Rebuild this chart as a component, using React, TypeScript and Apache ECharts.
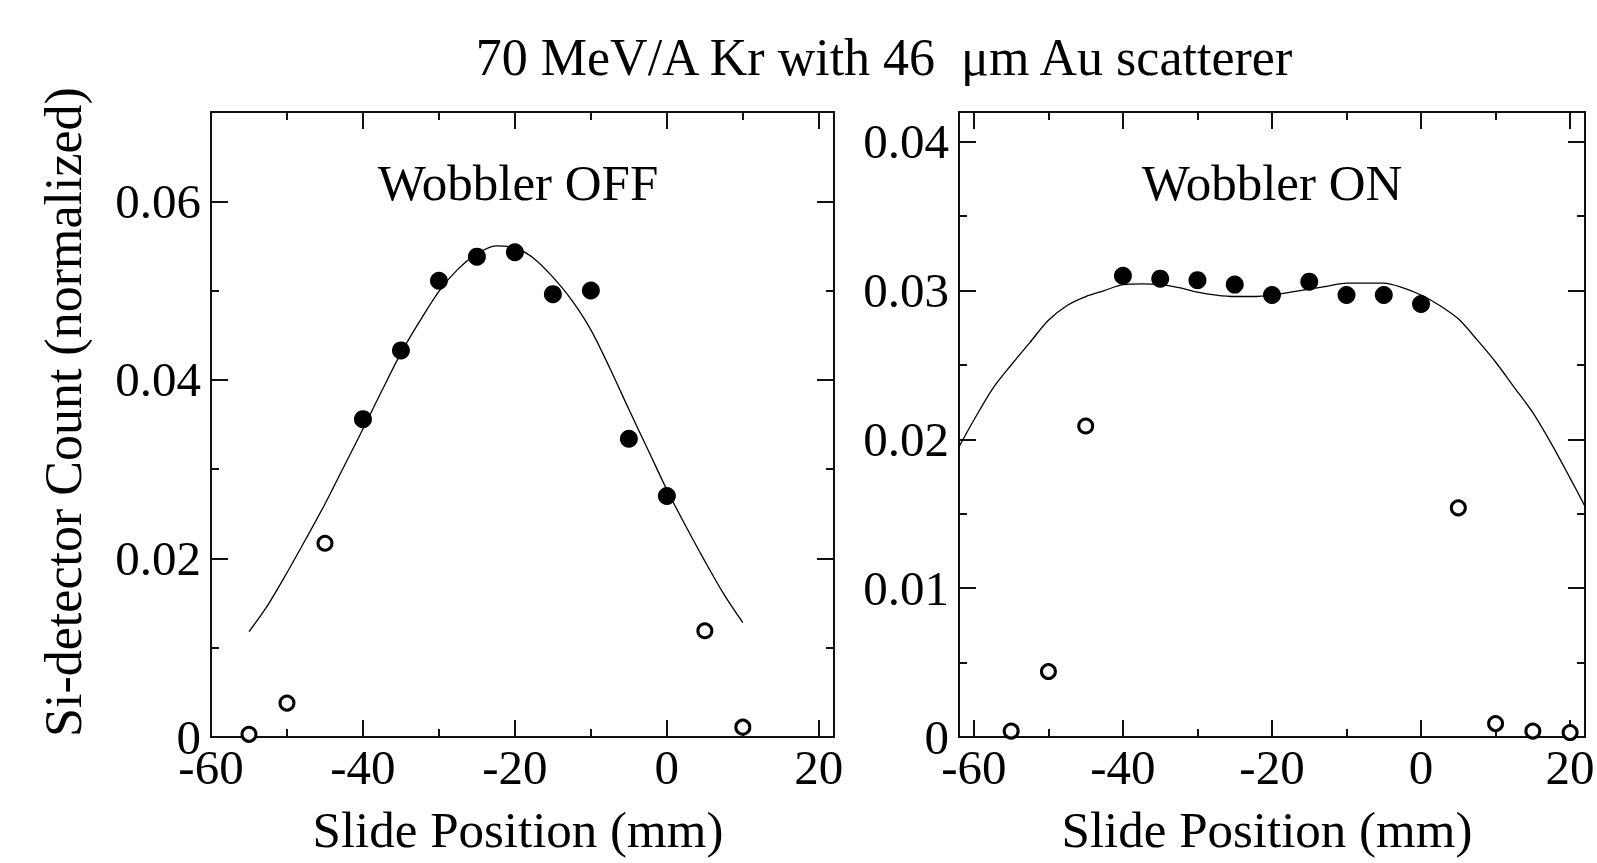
import React, { useEffect, useRef } from "react";
import * as echarts from "echarts";

// ---------- Data ----------
// Left panel: Wobbler OFF
const offFilledX = [-40, -35, -30, -25, -20, -15, -10, -5, 0];
const offFilledY = [0.0356, 0.0433, 0.0511, 0.0538, 0.0543, 0.0496, 0.05, 0.0334, 0.027];
const offOpenX = [-55, -50, -45, 5, 10];
const offOpenY = [0.0003, 0.0038, 0.0217, 0.0119, 0.0011];
const offFitX = [-55, -52.5, -50, -47.5, -45, -42.5, -40, -37.5, -35, -32.5, -30, -27.5, -25, -22.5, -20, -17.5, -15, -12.5, -10, -7.5, -5, -2.5, 0, 2.5, 5, 7.5, 10];
const offFitY = [0.0118, 0.0148, 0.0184, 0.0222, 0.0261, 0.0303, 0.0345, 0.0388, 0.043, 0.0466, 0.0499, 0.0524, 0.0541, 0.055, 0.0548, 0.0536, 0.0515, 0.0489, 0.0456, 0.0413, 0.0367, 0.0322, 0.0277, 0.0236, 0.0197, 0.016, 0.0128];

// Right panel: Wobbler ON
const onFilledX = [-40, -35, -30, -25, -20, -15, -10, -5, 0];
const onFilledY = [0.031, 0.0308, 0.0307, 0.0304, 0.0297, 0.0306, 0.0297, 0.0297, 0.0291];
const onOpenX = [-55, -50, -45, 5, 10, 15, 20];
const onOpenY = [0.0004, 0.0044, 0.0209, 0.0154, 0.0009, 0.0004, 0.0003];
const onFitX = [-62, -60, -57.5, -55, -52.5, -50, -47.5, -45, -42.5, -40, -37.5, -35, -32.5, -30, -27.5, -25, -22.5, -20, -17.5, -15, -12.5, -10, -7.5, -5, -2.5, 0, 2.5, 5, 7.5, 10, 12.5, 15, 17.5, 20, 22];
const onFitY = [0.0195, 0.0213, 0.0234, 0.025, 0.0265, 0.028, 0.029, 0.0296, 0.03, 0.0304, 0.03045, 0.0304, 0.0302, 0.0299, 0.0297, 0.0296, 0.0296, 0.0297, 0.0299, 0.0301, 0.0303, 0.0305, 0.0305, 0.0305, 0.0302, 0.0297, 0.029, 0.0281, 0.0267, 0.0252, 0.0235, 0.0218, 0.0197, 0.0174, 0.0155];

// Tick values
const xMajorTicks = [-60, -40, -20, 0, 20];
const xMinorTicks = [-50, -30, -10, 10];
const offYMajor = [0, 0.02, 0.04, 0.06];
const offYMinor = [0.01, 0.03, 0.05];
const onYMajor = [0, 0.01, 0.02, 0.03, 0.04];
const onYMinor = [0.005, 0.015, 0.025, 0.035];

// Texts
const titleText = "70 MeV/A Kr with 46  μm Au scatterer";
const yTitle = "Si-detector Count (normalized)";
const xTitle = "Slide Position (mm)";
const offLabel = "Wobbler OFF";
const onLabel = "Wobbler ON";

const FONT = "'Liberation Serif', 'Times New Roman', serif";
const INK = "#111";

const zip = (xs: number[], ys: number[]) => xs.map((x, i) => [x, ys[i]]);

function axis(
  dim: "x" | "y",
  gridIndex: number,
  position: string,
  min: number,
  max: number,
  major: boolean,
  ticks: number[],
  labels: number[] | null,
  fmt: (v: number) => string
) {
  return {
    type: "value",
    gridIndex,
    position,
    min,
    max,
    scale: false,
    splitLine: { show: false },
    splitArea: { show: false },
    axisLine: { show: major, onZero: false, lineStyle: { color: INK, width: 2 } },
    axisTick: {
      show: true,
      inside: true,
      length: major ? 17 : 8,
      customValues: ticks,
      lineStyle: { color: INK, width: 2 },
    },
    axisLabel: labels
      ? {
          show: true,
          customValues: labels,
          formatter: fmt,
          fontFamily: FONT,
          fontSize: 49,
          lineHeight: dim === "x" ? 30 : 26,
          color: "#000",
          margin: dim === "x" ? 15 : 10,
          showMinLabel: true,
          showMaxLabel: true,
        }
      : { show: false },
  };
}

const fmtX = (v: number) => String(v);
const fmtY = (v: number) => (v === 0 ? "0" : v.toFixed(2));

function panelAxes(g: number, xr: number[], yr: number[], yMaj: number[], yMin: number[]) {
  const xs = [
    axis("x", g, "bottom", xr[0], xr[1], true, xMajorTicks, xMajorTicks, fmtX),
    axis("x", g, "bottom", xr[0], xr[1], false, xMinorTicks, null, fmtX),
    axis("x", g, "top", xr[0], xr[1], true, xMajorTicks, null, fmtX),
    axis("x", g, "top", xr[0], xr[1], false, xMinorTicks, null, fmtX),
  ];
  const ys = [
    axis("y", g, "left", yr[0], yr[1], true, yMaj, yMaj, fmtY),
    axis("y", g, "left", yr[0], yr[1], false, yMin, null, fmtY),
    axis("y", g, "right", yr[0], yr[1], true, yMaj, null, fmtY),
    axis("y", g, "right", yr[0], yr[1], false, yMin, null, fmtY),
  ];
  return { xs, ys };
}

function panelSeries(g: number, fit: number[][], filled: number[][], open: number[][]) {
  const ai = g * 4;
  return [
    {
      type: "line",
      xAxisIndex: ai,
      yAxisIndex: ai,
      data: fit,
      symbol: "none",
      showSymbol: false,
      smooth: 0.3,
      lineStyle: { color: "#000", width: 1.3 },
      z: 2,
      silent: true,
    },
    {
      type: "scatter",
      xAxisIndex: ai,
      yAxisIndex: ai,
      data: filled,
      symbol: "circle",
      symbolSize: 18,
      itemStyle: { color: "#000", opacity: 1 },
      z: 3,
      silent: true,
    },
    {
      type: "scatter",
      xAxisIndex: ai,
      yAxisIndex: ai,
      data: open,
      symbol: "circle",
      symbolSize: 14,
      itemStyle: { color: "#fff", borderColor: "#000", borderWidth: 3, opacity: 1 },
      z: 3,
      silent: true,
    },
  ];
}

export default function App() {
  const ref = useRef<HTMLDivElement>(null);

  useEffect(() => {
    if (!ref.current) return;
    const chart = echarts.init(ref.current, undefined, { renderer: "svg" });

    const left = panelAxes(0, [-60, 22], [0, 0.07], offYMajor, offYMinor);
    const right = panelAxes(1, [-62, 22], [0, 0.042], onYMajor, onYMinor);

    const textStyle = (text: string, size: number) => ({
      text,
      fontFamily: FONT,
      fontSize: size,
      fill: "#000",
      align: "center",
      verticalAlign: "middle",
    });

    chart.setOption({
      animation: false,
      backgroundColor: "#fff",
      grid: [
        { left: 211, top: 112, width: 623, height: 625, containLabel: false, outerBoundsMode: "none" },
        { left: 959, top: 112, width: 626, height: 625, containLabel: false, outerBoundsMode: "none" },
      ],
      xAxis: [...left.xs, ...right.xs],
      yAxis: [...left.ys, ...right.ys],
      series: [
        ...panelSeries(0, zip(offFitX, offFitY), zip(offFilledX, offFilledY), zip(offOpenX, offOpenY)),
        ...panelSeries(1, zip(onFitX, onFitY), zip(onFilledX, onFilledY), zip(onOpenX, onOpenY)),
      ],
      graphic: [
        { type: "text", x: 884, y: 57, style: textStyle(titleText, 52), silent: true },
        { type: "text", x: 518, y: 183, style: textStyle(offLabel, 51), silent: true },
        { type: "text", x: 1272, y: 183, style: textStyle(onLabel, 51), silent: true },
        { type: "text", x: 518, y: 830, style: textStyle(xTitle, 51), silent: true },
        { type: "text", x: 1267, y: 830, style: textStyle(xTitle, 51), silent: true },
        { type: "text", x: 63, y: 412, rotation: Math.PI / 2, style: textStyle(yTitle, 52), silent: true },
      ],
    });

    return () => {
      chart.dispose();
    };
  }, []);

  return (
    <div
      ref={ref}
      style={{ position: "absolute", left: 0, top: 0, width: "1597px", height: "863px", background: "#fff" }}
    />
  );
}
